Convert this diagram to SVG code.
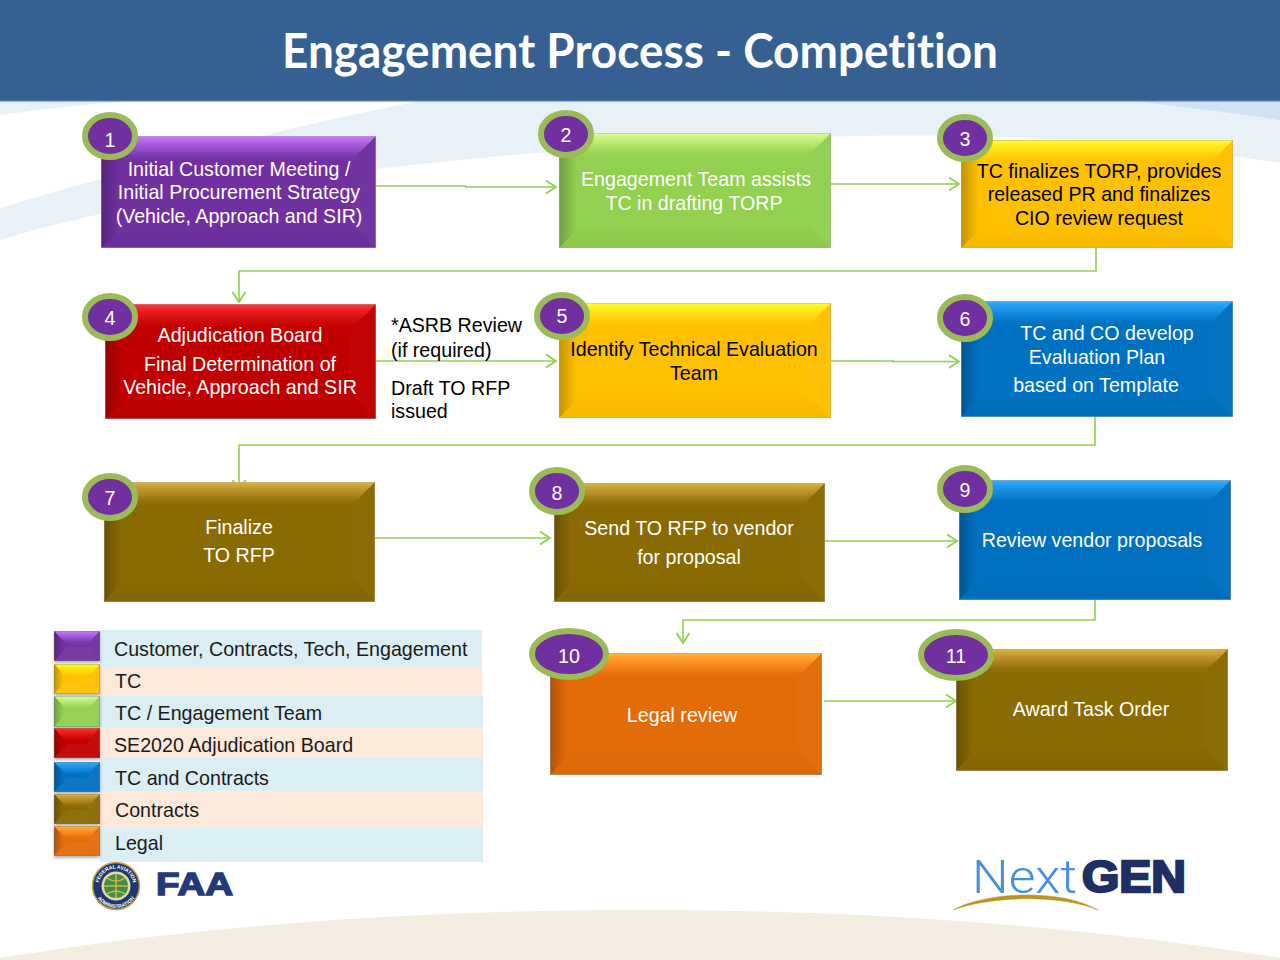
<svg xmlns="http://www.w3.org/2000/svg" width="1280" height="960" viewBox="0 0 1280 960">
<style>
text{font-family:"Liberation Sans",Arial,sans-serif;font-size:19.650px}
.t{fill:#fff;text-anchor:middle}
.k{fill:#000;text-anchor:middle}
.l{fill:#1a1a1a}
.n{fill:#fff;text-anchor:middle}
.b{fill:#7030a0;stroke:#9bbb59;stroke-width:6}
.c{fill:none;stroke:#92d050;stroke-width:1.600}
.a{marker-end:url(#arrow)}
.purple{fill:#7030a0}.green{fill:#92d050}.yellow{fill:#ffc000}.red{fill:#c00000}.blue{fill:#0070c0}.brown{fill:#8a6a02}.orange{fill:#e36c09}
</style>
<defs>
<marker id="arrow" markerUnits="userSpaceOnUse" markerWidth="14" markerHeight="16" refX="12" refY="8" orient="auto"><path d="M2 1.500L12 8L2 14.500" fill="none" stroke="#92d050" stroke-width="1.800"/></marker>
<linearGradient id="tp" x1="0" y1="0" x2="0" y2="1"><stop offset="0" stop-color="#c879ff"/><stop offset=".25" stop-color="#b062e8"/><stop offset=".8" stop-color="#7a38ac"/><stop offset="1" stop-color="#7030a0"/></linearGradient>
<linearGradient id="tg" x1="0" y1="0" x2="0" y2="1"><stop offset="0" stop-color="#dcff98"/><stop offset=".25" stop-color="#c4f07c"/><stop offset=".8" stop-color="#98d456"/><stop offset="1" stop-color="#92d050"/></linearGradient>
<linearGradient id="ty" x1="0" y1="0" x2="0" y2="1"><stop offset="0" stop-color="#ffff30"/><stop offset=".25" stop-color="#ffe81c"/><stop offset=".8" stop-color="#ffc602"/><stop offset="1" stop-color="#ffc000"/></linearGradient>
<linearGradient id="tr" x1="0" y1="0" x2="0" y2="1"><stop offset="0" stop-color="#ff3b3b"/><stop offset=".25" stop-color="#f02020"/><stop offset=".8" stop-color="#c80404"/><stop offset="1" stop-color="#c00000"/></linearGradient>
<linearGradient id="tb" x1="0" y1="0" x2="0" y2="1"><stop offset="0" stop-color="#38aeff"/><stop offset=".25" stop-color="#2299ee"/><stop offset=".8" stop-color="#0576c6"/><stop offset="1" stop-color="#0070c0"/></linearGradient>
<linearGradient id="tn" x1="0" y1="0" x2="0" y2="1"><stop offset="0" stop-color="#dcb444"/><stop offset=".25" stop-color="#c49a30"/><stop offset=".8" stop-color="#8f6f06"/><stop offset="1" stop-color="#8a6a02"/></linearGradient>
<linearGradient id="to" x1="0" y1="0" x2="0" y2="1"><stop offset="0" stop-color="#ffb23f"/><stop offset=".25" stop-color="#ff9a28"/><stop offset=".8" stop-color="#e8720e"/><stop offset="1" stop-color="#e36c09"/></linearGradient>
<linearGradient id="sl" x1="0" y1="0" x2="1" y2="0"><stop offset="0" stop-color="#000" stop-opacity=".24"/><stop offset=".7" stop-color="#000" stop-opacity="0"/></linearGradient>
<linearGradient id="sb" x1="0" y1="0" x2="0" y2="1"><stop offset="0" stop-color="#000" stop-opacity="0"/><stop offset="1" stop-color="#000" stop-opacity=".04"/></linearGradient>
<symbol id="ov" viewBox="0 0 272 112" preserveAspectRatio="none"><polygon points="0,0 25,25 25,87 0,112" fill="url(#sl)"/><polygon points="272,0 247,25 247,87 272,112" fill="#fff" opacity=".02"/><polygon points="0,112 25,87 247,87 272,112" fill="url(#sb)"/><rect x="0" y="0" width="272" height="112" fill="none" stroke="#b0a8a0" stroke-opacity=".7" stroke-width="1.200"/></symbol>
<symbol id="ovs" viewBox="0 0 46 30" preserveAspectRatio="none"><polygon points="0,0 13,14 13,16 0,30" fill="url(#sl)"/><polygon points="46,0 33,14 33,16 46,30" fill="#fff" opacity=".04"/><polygon points="0,30 13,16 33,16 46,30" fill="#fff" opacity=".05"/><rect x="0" y="0" width="46" height="30" fill="none" stroke="#777" stroke-opacity=".6" stroke-width="1.200"/></symbol>
<filter id="sh" x="-10%" y="-10%" width="120%" height="130%"><feDropShadow dx="0" dy="2" stdDeviation="1.500" flood-color="#000" flood-opacity=".3"/></filter>
<path id="ringTop" d="M98.500 886A17.500 17.500 0 0 1 133.500 886"/>
<path id="ringBot" d="M94 886A22 22 0 0 0 138 886"/>
</defs>

<rect width="1280" height="960" fill="#fff"/>
<path d="M0 208C130 170 270 130 420 101H1280V163C1130 138 980 134 860 136C650 140 250 165 0 240Z" fill="#e8f0f8"/>
<path d="M1137 101H1280V120C1230 112 1180 107 1137 101Z" fill="#d2e1f3"/>
<path d="M0 115C45 109 90 104 130 101H0Z" fill="#e8f0f8"/>
<path d="M0 958C200 925 420 910 640 910C860 910 1080 925 1280 958V960H0Z" fill="#f2ede0"/>
<rect width="1280" height="101" fill="#376092"/>
<rect y="100" width="1280" height="1.500" fill="#4f78a8"/>
<text id="title" x="640" y="68" text-anchor="middle" textLength="716" lengthAdjust="spacingAndGlyphs" style="font-family:Lato,'Open Sans',sans-serif;font-size:47px;font-weight:700;font-variant-ligatures:none" fill="#fff">Engagement Process - Competition</text>

<g id="connectors">
<path class="c a" d="M376 186H466V187H556"/>
<path class="c a" d="M831 184H959"/>
<path class="c a" d="M1096 247V271H239V302"/>
<path class="c a" d="M376 361H556"/>
<path class="c a" d="M831 361H893V361.500H959"/>
<path class="c a" d="M1095 417V445H239V490"/>
<path class="c a" d="M375 538H550"/>
<path class="c a" d="M825 541H957"/>
<path class="c a" d="M1095 599V620H683V643"/>
<path class="c a" d="M824 701H956"/>
</g>

<g id="node1"><rect class="purple" x="101" y="136" width="275" height="112"/><polygon points="101,136 376,136 351,161 126,161" fill="url(#tp)"/><use href="#ov" x="101" y="136" width="275" height="112"/><ellipse class="b" cx="110" cy="136" rx="25" ry="21"/><text class="n" x="110" y="147">1</text><text class="t"><tspan x="239" y="176">Initial Customer Meeting /</tspan><tspan x="239" y="199">Initial Procurement Strategy</tspan><tspan x="239" y="223">(Vehicle, Approach and SIR)</tspan></text></g>
<g id="node2"><rect class="green" x="559" y="133" width="272" height="115"/><polygon points="559,133 831,133 806,158 584,158" fill="url(#tg)"/><use href="#ov" x="559" y="133" width="272" height="115"/><ellipse class="b" cx="566" cy="134" rx="25" ry="21"/><text class="n" x="566" y="142">2</text><text class="t"><tspan x="696" y="186">Engagement Team assists</tspan><tspan x="694" y="210">TC in drafting TORP</tspan></text></g>
<g id="node3"><rect class="yellow" x="961" y="140" width="272" height="108"/><polygon points="961,140 1233,140 1208,165 986,165" fill="url(#ty)"/><use href="#ov" x="961" y="140" width="272" height="108"/><ellipse class="b" cx="965" cy="138" rx="25" ry="21"/><text class="n" x="965" y="146">3</text><text class="k"><tspan x="1099" y="178">TC finalizes TORP, provides</tspan><tspan x="1099" y="201">released PR and finalizes</tspan><tspan x="1099" y="225">CIO review request</tspan></text></g>
<g id="node4"><rect class="red" x="105" y="304" width="271" height="115"/><polygon points="105,304 376,304 351,329 130,329" fill="url(#tr)"/><use href="#ov" x="105" y="304" width="271" height="115"/><ellipse class="b" cx="110" cy="317" rx="25" ry="21"/><text class="n" x="110" y="325">4</text><text class="t"><tspan x="240" y="342">Adjudication Board</tspan><tspan x="240" y="371">Final Determination of</tspan><tspan x="240" y="394">Vehicle, Approach and SIR</tspan></text></g>
<g id="note"><text x="391" y="332">*ASRB Review</text><text x="391" y="357">(if required)</text><text x="391" y="395">Draft TO RFP</text><text x="391" y="418">issued</text></g>
<g id="node5"><rect class="yellow" x="559" y="303" width="272" height="115"/><polygon points="559,303 831,303 806,328 584,328" fill="url(#ty)"/><use href="#ov" x="559" y="303" width="272" height="115"/><ellipse class="b" cx="562" cy="316" rx="25" ry="21"/><text class="n" x="562" y="323">5</text><text class="k"><tspan x="694" y="356">Identify Technical Evaluation</tspan><tspan x="694" y="380">Team</tspan></text></g>
<g id="node6"><rect class="blue" x="961" y="301" width="272" height="116"/><polygon points="961,301 1233,301 1208,326 986,326" fill="url(#tb)"/><use href="#ov" x="961" y="301" width="272" height="116"/><ellipse class="b" cx="965" cy="318" rx="25" ry="21"/><text class="n" x="965" y="326">6</text><text class="t"><tspan x="1107" y="340">TC and CO develop</tspan><tspan x="1097" y="364">Evaluation Plan</tspan><tspan x="1096" y="392">based on Template</tspan></text></g>
<g id="node7"><rect class="brown" x="104" y="482" width="271" height="120"/><polygon points="104,482 375,482 350,507 129,507" fill="url(#tn)"/><use href="#ov" x="104" y="482" width="271" height="120"/><ellipse class="b" cx="110" cy="497" rx="25" ry="21"/><text class="n" x="110" y="505">7</text><text class="t"><tspan x="239" y="534">Finalize</tspan><tspan x="239" y="562">TO RFP</tspan></text></g>
<g id="node8"><rect class="brown" x="554" y="483" width="271" height="119"/><polygon points="554,483 825,483 800,508 579,508" fill="url(#tn)"/><use href="#ov" x="554" y="483" width="271" height="119"/><ellipse class="b" cx="557" cy="491" rx="25" ry="21"/><text class="n" x="557" y="500">8</text><text class="t"><tspan x="689" y="535">Send TO RFP to vendor</tspan><tspan x="689" y="564">for proposal</tspan></text></g>
<g id="node9"><rect class="blue" x="959" y="480" width="272" height="120"/><polygon points="959,480 1231,480 1206,505 984,505" fill="url(#tb)"/><use href="#ov" x="959" y="480" width="272" height="120"/><ellipse class="b" cx="965" cy="489" rx="25" ry="21"/><text class="n" x="965" y="497">9</text><text class="t" x="1092" y="547">Review vendor proposals</text></g>
<g id="node10"><rect class="orange" x="550" y="653" width="272" height="122"/><polygon points="550,653 822,653 797,678 575,678" fill="url(#to)"/><use href="#ov" x="550" y="653" width="272" height="122"/><ellipse class="b" cx="569" cy="654" rx="37" ry="23"/><text class="n" x="569" y="663">10</text><text class="t" x="682" y="722">Legal review</text></g>
<g id="node11"><rect class="brown" x="956" y="649" width="272" height="122"/><polygon points="956,649 1228,649 1203,674 981,674" fill="url(#tn)"/><use href="#ov" x="956" y="649" width="272" height="122"/><ellipse class="b" cx="956" cy="655" rx="35" ry="23"/><text class="n" x="956" y="663">11</text><text class="t" x="1091" y="716">Award Task Order</text></g>

<g id="legend">
<rect x="100" y="630" width="382" height="37" fill="#daeef3"/>
<rect x="100" y="667" width="382" height="29" fill="#fde9d9"/>
<rect x="100" y="696" width="383" height="31" fill="#daeef3"/>
<rect x="100" y="727" width="383" height="31" fill="#fde9d9"/>
<rect x="100" y="758" width="383" height="33" fill="#daeef3"/>
<rect x="100" y="791" width="383" height="37" fill="#fde9d9"/>
<rect x="100" y="828" width="383" height="34" fill="#daeef3"/>
<g filter="url(#sh)">
<rect class="purple" x="54" y="631" width="46" height="30"/><polygon points="54,631 100,631 87,645 67,645" fill="url(#tp)"/><use href="#ovs" x="54" y="631" width="46" height="30"/>
<rect class="yellow" x="54" y="664" width="46" height="30"/><polygon points="54,664 100,664 87,678 67,678" fill="url(#ty)"/><use href="#ovs" x="54" y="664" width="46" height="30"/>
<rect class="green" x="54" y="696" width="46" height="31"/><polygon points="54,696 100,696 87,710 67,710" fill="url(#tg)"/><use href="#ovs" x="54" y="696" width="46" height="31"/>
<rect class="red" x="54" y="728" width="46" height="30"/><polygon points="54,728 100,728 87,742 67,742" fill="url(#tr)"/><use href="#ovs" x="54" y="728" width="46" height="30"/>
<rect class="blue" x="54" y="762" width="46" height="30"/><polygon points="54,762 100,762 87,776 67,776" fill="url(#tb)"/><use href="#ovs" x="54" y="762" width="46" height="30"/>
<rect class="brown" x="54" y="794" width="46" height="30"/><polygon points="54,794 100,794 87,808 67,808" fill="url(#tn)"/><use href="#ovs" x="54" y="794" width="46" height="30"/>
<rect class="orange" x="54" y="826" width="46" height="30"/><polygon points="54,826 100,826 87,840 67,840" fill="url(#to)"/><use href="#ovs" x="54" y="826" width="46" height="30"/>
</g>
<text class="l" x="114" y="656">Customer, Contracts, Tech, Engagement</text>
<text class="l" x="115" y="688">TC</text>
<text class="l" x="115" y="720">TC / Engagement Team</text>
<text class="l" x="114" y="752">SE2020 Adjudication Board</text>
<text class="l" x="115" y="785">TC and Contracts</text>
<text class="l" x="115" y="817">Contracts</text>
<text class="l" x="115" y="850">Legal</text>
</g>

<g id="faa-logo">
<circle cx="116" cy="886" r="23.500" fill="#1f3a6e" stroke="#c8a24a" stroke-width="1.500"/>
<circle cx="116" cy="886" r="14.500" fill="#e8d9a0"/>
<circle cx="116" cy="886" r="12" fill="#3f8f4a"/>
<path d="M104 886H128M116 874V898M107 878Q116 884 125 878M107 894Q116 888 125 894" fill="none" stroke="#d8b440" stroke-width="1.500"/>
<text style="font-size:5px;font-weight:700" fill="#fff"><textPath href="#ringTop" startOffset="50%" text-anchor="middle">FEDERAL AVIATION</textPath></text>
<text style="font-size:5px;font-weight:700" fill="#fff"><textPath href="#ringBot" startOffset="50%" text-anchor="middle">ADMINISTRATION</textPath></text>
<text x="156" y="895" style="font-size:32px;font-weight:700;stroke:#243a78;stroke-width:1.500" fill="#243a78" textLength="77" lengthAdjust="spacingAndGlyphs">FAA</text>
</g>
<g id="nextgen-logo">
<text x="972" y="893" style="font-family:Roboto,'Liberation Sans',sans-serif;font-size:47px;font-weight:300" fill="#4a8fdc" textLength="105" lengthAdjust="spacingAndGlyphs">Next</text>
<text x="1082" y="892" style="font-size:45px;font-weight:700;stroke:#1f2f66;stroke-width:2.500" fill="#1f2f66" textLength="104" lengthAdjust="spacingAndGlyphs">GEN</text>
<path d="M953 910C985 892 1060 888 1098 910C1060 894 990 896 953 910Z" fill="#b8941f" stroke="#b8941f" stroke-width=".5"/>
</g>
</svg>
